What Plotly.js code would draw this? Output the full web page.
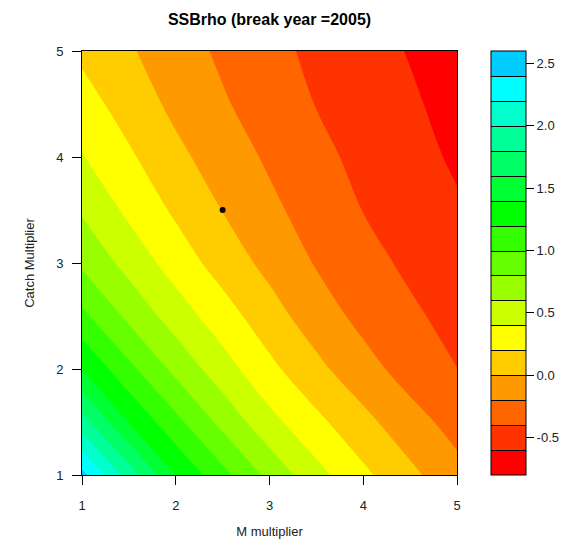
<!DOCTYPE html>
<html>
<head>
<meta charset="utf-8">
<script src="https://cdn.plot.ly/plotly-3.0.1.min.js"></script>
<style>
  html, body { margin: 0; padding: 0; background: #ffffff; }
  #chart { width: 573px; height: 543px; }
</style>
</head>
<body>
<div id="chart"></div>
<script>
// M multiplier (x) and Catch multiplier (y) grid
const mMultiplier = [1, 1.5, 2, 2.5, 3, 3.5, 4, 4.5, 5];
const catchMultiplier = [1, 1.5, 2, 2.5, 3, 3.5, 4, 4.5, 5];

// SSBrho values, one row per Catch multiplier
const rhoCatch10 = [2.46, 1.909, 1.393, 1.06, 0.743, 0.465, 0.242, 0.049, -0.14];
const rhoCatch15 = [1.882, 1.392, 1.056, 0.741, 0.463, 0.248, 0.059, -0.128, -0.268];
const rhoCatch20 = [1.394, 1.052, 0.746, 0.486, 0.248, 0.052, -0.131, -0.277, -0.398];
const rhoCatch25 = [1.048, 0.752, 0.505, 0.288, 0.083, -0.107, -0.254, -0.366, -0.465];
const rhoCatch30 = [0.765, 0.532, 0.310, 0.114, -0.058, -0.214, -0.335, -0.437, -0.522];
const rhoCatch35 = [0.577, 0.357, 0.167, -0.005, -0.157, -0.286, -0.404, -0.491, -0.578];
const rhoCatch40 = [0.41, 0.230, 0.049, -0.098, -0.229, -0.349, -0.451, -0.539, -0.626];
const rhoCatch45 = [0.284, 0.111, -0.048, -0.179, -0.295, -0.406, -0.490, -0.574, -0.664];
const rhoCatch50 = [0.157, 0.022, -0.110, -0.235, -0.345, -0.442, -0.527, -0.611, -0.70];

// The marked point
const pointM = [2.5];
const pointCatch = [3.5];

// Key: band colours (lowest to highest) and tick labels
const bandColors = ["#FF0000", "#FF3300", "#FF6600", "#FF9900", "#FFCC00", "#FFFF00",
  "#CCFF00", "#99FF00", "#66FF00", "#33FF00", "#00FF00", "#00FF33", "#00FF66",
  "#00FF99", "#00FFCC", "#00FFFF", "#00CCFF"];
const keyTickVals = [-0.5, 0, 0.5, 1, 1.5, 2, 2.5];
const keyTickText = ["-0.5", "0.0", "0.5", "1.0", "1.5", "2.0", "2.5"];
const axisTicks = [1, 2, 3, 4, 5];

const zRows = [rhoCatch10, rhoCatch15, rhoCatch20, rhoCatch25, rhoCatch30,
  rhoCatch35, rhoCatch40, rhoCatch45, rhoCatch50];

const nb = bandColors.length;
const colorscale = bandColors.map((c, i) => [i / (nb - 1), c]);
const contours = { start: -0.6, end: 2.4, size: 0.2, coloring: "fill", showlines: true };

const font = { family: "Liberation Sans, Arial, sans-serif", size: 13, color: "#222" };

// Trace drawn first: only supplies the key (with black band separators)
const keyTrace = {
  type: "contour", x: mMultiplier, y: catchMultiplier, z: zRows,
  colorscale: colorscale, zmin: -0.8, zmax: 2.6, autocontour: false,
  contours: contours, line: { color: "#000000", width: 1, smoothing: 1 },
  hoverinfo: "skip", showscale: true,
  colorbar: {
    x: 1.0907, xanchor: "left", xref: "paper", xpad: 0, ypad: 0,
    y: 0.5, yanchor: "middle", len: 1, lenmode: "fraction",
    thickness: 35, thicknessmode: "pixels",
    outlinecolor: "#000000", outlinewidth: 1,
    tickmode: "array", tickvals: keyTickVals, ticktext: keyTickText,
    ticks: "outside", ticklen: 8, tickcolor: "#000000", tickwidth: 1,
    tickfont: font
  }
};

// Filled contours on top
const fillTrace = {
  type: "contour", x: mMultiplier, y: catchMultiplier, z: zRows,
  colorscale: colorscale, zmin: -0.8, zmax: 2.6, autocontour: false,
  contours: Object.assign({}, contours, { showlines: false }),
  line: { width: 0, smoothing: 1 },
  showscale: false
};

const pointTrace = {
  type: "scatter", mode: "markers", x: pointM, y: pointCatch,
  marker: { color: "#000000", size: 6 }, showlegend: false, hoverinfo: "skip"
};

const layout = {
  width: 573, height: 543,
  margin: { l: 82, r: 116, t: 51, b: 68 },
  paper_bgcolor: "#ffffff", plot_bgcolor: "#ffffff",
  font: font,
  showlegend: false,
  title: {
    text: "SSBrho (break year =2005)",
    font: { family: "Liberation Sans, Arial, sans-serif", size: 16, color: "#000000", weight: "bold" },
    x: 0.5, xref: "paper", xanchor: "center",
    y: 1 - 19 / 543, yref: "container", yanchor: "middle"
  },
  xaxis: {
    range: [1, 5], tickmode: "array", tickvals: axisTicks,
    ticks: "outside", ticklen: 9, tickcolor: "#000000",
    showline: true, mirror: true, linecolor: "#000000", linewidth: 1,
    showgrid: false, zeroline: false, ticklabelstandoff: 9,
    title: { text: "M multiplier", standoff: 15, font: font }
  },
  yaxis: {
    range: [1, 5], tickmode: "array", tickvals: axisTicks,
    ticks: "outside", ticklen: 9, tickcolor: "#000000",
    showline: true, mirror: true, linecolor: "#000000", linewidth: 1,
    showgrid: false, zeroline: false, ticklabelstandoff: 6,
    title: { text: "Catch Multiplier", standoff: 18, font: font }
  }
};

Plotly.newPlot("chart", [keyTrace, fillTrace, pointTrace], layout, { displayModeBar: false, staticPlot: true });
</script>
</body>
</html>
